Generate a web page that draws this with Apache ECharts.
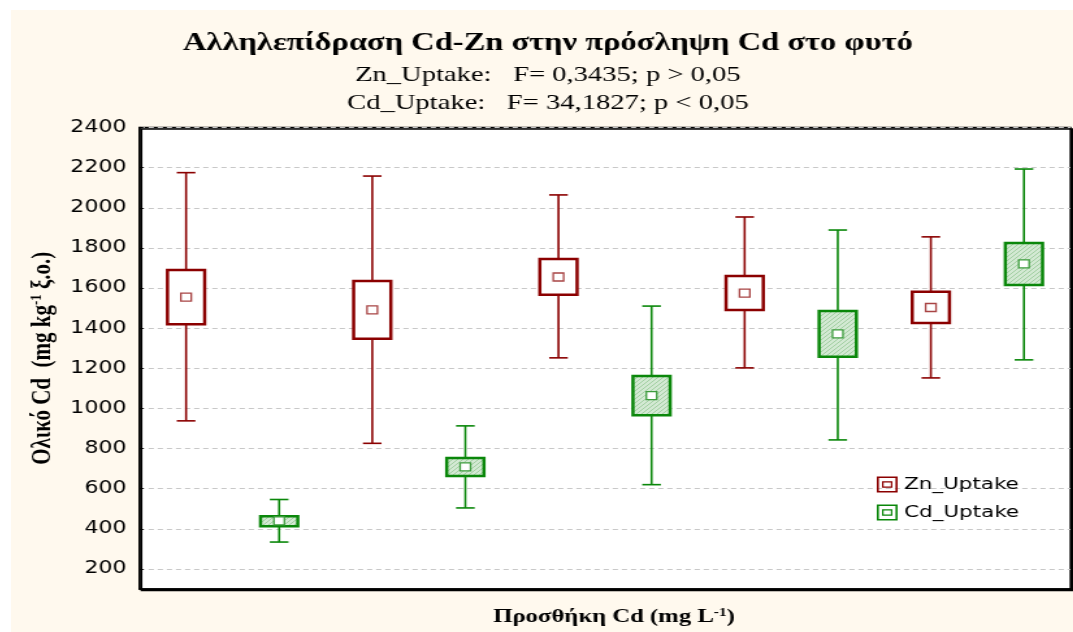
<!DOCTYPE html>
<html>
<head>
<meta charset="utf-8">
<script src="https://cdn.jsdelivr.net/npm/echarts@6.0.0/dist/echarts.min.js"></script>
<style>
  html, body { margin: 0; padding: 0; background: #ffffff; width: 1073px; height: 632px; overflow: hidden; }
  /* the chart is laid out narrow and widened horizontally, giving the wide lettering of the figure */
  #chart { position: absolute; left: 11px; top: 10px; width: 817px; height: 622px;
           transform: scaleX(1.3); transform-origin: 0 0; }
</style>
</head>
<body>
<div id="chart"></div>
<script>
// Cd addition levels (unlabelled on the axis)
const categories = ['1', '2', '3', '4', '5'];

// Zn_Uptake: mean, box (low/high) and whisker (low/high)
const znMean      = [1555, 1491, 1655, 1575, 1503];
const znBoxLow    = [1420, 1347, 1566, 1491, 1426];
const znBoxHigh   = [1690, 1635, 1745, 1660, 1581];
const znWhiskLow  = [ 938,  826, 1252, 1202, 1152];
const znWhiskHigh = [2175, 2158, 2064, 1954, 1855];

// Cd_Uptake: mean, box (low/high) and whisker (low/high)
const cdMean      = [ 440,  709, 1064, 1371, 1720];
const cdBoxLow    = [ 413,  663,  966, 1257, 1615];
const cdBoxHigh   = [ 463,  753, 1161, 1486, 1825];
const cdWhiskLow  = [ 334,  504,  620,  843, 1242];
const cdWhiskHigh = [ 546,  913, 1510, 1889, 2193];

// value axis range and its tick labels
const yMin = 100, yMax = 2400;
const yTicks = [200, 400, 600, 800, 1000, 1200, 1400, 1600, 1800, 2000, 2200, 2400];

const seriesNames = ['Zn_Uptake', 'Cd_Uptake'];
const titleText = 'Αλληλεπίδραση Cd-Zn στην πρόσληψη Cd στο φυτό';
const subText = 'Zn_Uptake:   F= 0,3435; p > 0,05\nCd_Uptake:   F= 34,1827; p < 0,05';

const RED = '#8b0000', RED_MEAN = '#a84444';
const GREEN = '#0a870a', GREEN_MEAN = '#3c9c3c';

// light green dotted hatch for the Cd boxes
const hatch = document.createElement('canvas');
hatch.width = 4; hatch.height = 4;
(function () {
  const c = hatch.getContext('2d');
  c.fillStyle = '#d3e9d3'; c.fillRect(0, 0, 4, 4);
  c.fillStyle = '#a2cfa2';
  c.fillRect(0, 0, 1, 1); c.fillRect(2, 2, 1, 1);
  c.fillRect(1, 3, 1, 1); c.fillRect(3, 1, 1, 1);
})();

function rows(mean, bl, bh, wl, wh) {
  return mean.map((m, i) => [i, wl[i], bl[i], m, bh[i], wh[i]]);
}

function boxRenderer(side, c) {
  return function (params, api) {
    const i = api.value(0);
    const band = api.size([1, 0])[0];
    const x = api.coord([i, api.value(3)])[0] + side * band / 4;
    const yWl = api.coord([i, api.value(1)])[1];
    const yBl = api.coord([i, api.value(2)])[1];
    const yM  = api.coord([i, api.value(3)])[1];
    const yBh = api.coord([i, api.value(4)])[1];
    const yWh = api.coord([i, api.value(5)])[1];
    const bw = band * 0.2, cw = band * 0.1;
    const ls = { stroke: c.line, lineWidth: 1.6 };
    return {
      type: 'group',
      children: [
        { type: 'line', shape: { x1: x, y1: yWh, x2: x, y2: yWl }, style: ls },
        { type: 'line', shape: { x1: x - cw / 2, y1: yWh, x2: x + cw / 2, y2: yWh }, style: ls },
        { type: 'line', shape: { x1: x - cw / 2, y1: yWl, x2: x + cw / 2, y2: yWl }, style: ls },
        { type: 'rect', shape: { x: x - bw / 2, y: yBh, width: bw, height: yBl - yBh },
          style: { fill: c.fill, stroke: c.line, lineWidth: 2.5 } },
        { type: 'rect', shape: { x: x - 4, y: yM - 4, width: 8, height: 8 },
          style: { fill: '#ffffff', stroke: c.mean, lineWidth: 1.3 } }
      ]
    };
  };
}

const legendIcon = 'path://M0 0H20V20H0Z M2 2V18H18V2Z M5 6H15V14H5Z M6.5 7.5V12.5H13.5V7.5Z';

const chart = echarts.init(document.getElementById('chart'), null, { renderer: 'canvas' });

chart.setOption({
  backgroundColor: '#fff9ee',
  animation: false,
  title: {
    text: titleText,
    subtext: subText,
    left: 413,
    top: 20,
    padding: 0,
    textAlign: 'center',
    itemGap: 3,
    textStyle: { fontFamily: 'Liberation Serif', fontWeight: 'bold', fontSize: 25, color: '#000', lineHeight: 28 },
    subtextStyle: { fontFamily: 'Liberation Serif', fontSize: 22, color: '#000', lineHeight: 28 }
  },
  legend: {
    orient: 'vertical',
    left: 666,
    top: 466,
    padding: 0,
    itemWidth: 16,
    itemHeight: 17,
    itemGap: 11,
    textStyle: { fontFamily: 'DejaVu Sans', fontSize: 16.5, color: '#000' },
    data: [
      { name: seriesNames[0], icon: legendIcon, itemStyle: { color: RED } },
      { name: seriesNames[1], icon: legendIcon, itemStyle: { color: GREEN } }
    ]
  },
  grid: {
    left: 98.85, right: 2, top: 117.5, bottom: 43,
    show: true,
    backgroundColor: '#ffffff',
    borderColor: '#000000',
    borderWidth: 1.4,
    shadowColor: '#000000',
    shadowOffsetX: 1.5,
    shadowOffsetY: 1.5,
    shadowBlur: 0
  },
  xAxis: {
    type: 'category',
    data: categories,
    name: '{b|Προσθήκη Cd (mg L}{s|-1}{b|)}',
    nameLocation: 'middle',
    nameGap: 18,
    nameTextStyle: {
      padding: [0, 0, 0, 14],
      rich: {
        b: { fontFamily: 'Liberation Serif', fontWeight: 'bold', fontSize: 19, color: '#000', lineHeight: 21 },
        s: { fontFamily: 'Liberation Serif', fontWeight: 'bold', fontSize: 12, color: '#000', lineHeight: 12, verticalAlign: 'top' }
      }
    },
    axisLine: { lineStyle: { color: '#000', width: 1.5 } },
    axisTick: { inside: true, alignWithLabel: true, length: 4, lineStyle: { color: '#000', width: 1.2 } },
    axisLabel: { show: false },
    splitLine: { show: false }
  },
  yAxis: {
    type: 'value',
    min: yMin,
    max: yMax,
    name: '{b|Ολικό Cd  (mg kg}{s|-1}{b| ξ.ο.)}',
    nameLocation: 'middle',
    nameRotate: 90,
    nameGap: 61,
    nameTextStyle: {
      rich: {
        b: { fontFamily: 'Liberation Serif', fontWeight: 'bold', fontSize: 21, color: '#000', lineHeight: 23 },
        s: { fontFamily: 'Liberation Serif', fontWeight: 'bold', fontSize: 13, color: '#000', lineHeight: 13, verticalAlign: 'top' }
      }
    },
    axisLine: { show: true, lineStyle: { color: '#000', width: 1.5 } },
    axisTick: { show: true, inside: true, length: 3, customValues: yTicks, lineStyle: { color: '#000', width: 1 } },
    axisLabel: {
      customValues: yTicks,
      formatter: v => String(v),
      margin: 10, fontFamily: 'DejaVu Sans', fontSize: 17, color: '#000'
    },
    splitLine: { show: true, lineStyle: { color: '#c8c8c8', width: 1, type: [4, 3] } }
  },
  series: [
    {
      name: seriesNames[0],
      type: 'custom',
      itemStyle: { color: RED },
      encode: { x: 0, y: [1, 2, 3, 4, 5] },
      renderItem: boxRenderer(-1, { line: RED, mean: RED_MEAN, fill: '#ffffff' }),
      data: rows(znMean, znBoxLow, znBoxHigh, znWhiskLow, znWhiskHigh)
    },
    {
      name: seriesNames[1],
      type: 'custom',
      itemStyle: { color: GREEN },
      encode: { x: 0, y: [1, 2, 3, 4, 5] },
      renderItem: boxRenderer(1, { line: GREEN, mean: GREEN_MEAN, fill: { image: hatch, repeat: 'repeat' } }),
      data: rows(cdMean, cdBoxLow, cdBoxHigh, cdWhiskLow, cdWhiskHigh)
    }
  ]
});
</script>
</body>
</html>
